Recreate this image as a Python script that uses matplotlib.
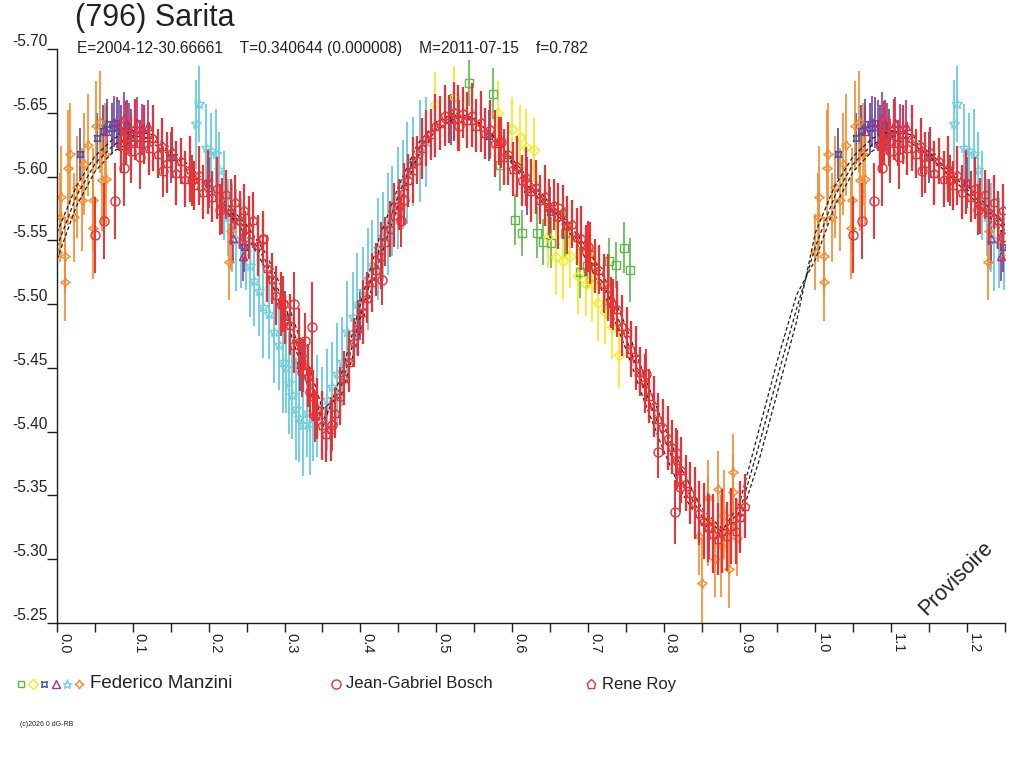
import numpy as np
import matplotlib
matplotlib.use('Agg')
import matplotlib.pyplot as plt

plt.rcParams['font.family'] = ['Liberation Sans', 'DejaVu Sans']

# curve fit (3 solutions), phase 0..1
fit_phase = [0.000, 0.025, 0.050, 0.075, 0.100, 0.125, 0.150, 0.175, 0.200, 0.225,
             0.250, 0.275, 0.300, 0.325, 0.350, 0.375, 0.400, 0.425, 0.450, 0.475,
             0.500, 0.525, 0.550, 0.575, 0.600, 0.625, 0.650, 0.675, 0.700, 0.725,
             0.750, 0.775, 0.800, 0.825, 0.850, 0.875, 0.900, 0.925, 0.950, 0.975, 1.000]
fit_mid = [-5.545, -5.584, -5.610, -5.625, -5.632, -5.630, -5.619, -5.605, -5.590, -5.575,
           -5.558, -5.534, -5.500, -5.455, -5.408, -5.436, -5.490, -5.543, -5.585, -5.620,
           -5.640, -5.648, -5.645, -5.632, -5.612, -5.593, -5.576, -5.560, -5.538, -5.510,
           -5.474, -5.433, -5.395, -5.360, -5.334, -5.322, -5.337, -5.388, -5.443, -5.496, -5.545]
fit_a = [-5.556, -5.592, -5.616, -5.630, -5.636, -5.633, -5.622, -5.608, -5.593, -5.578,
         -5.562, -5.540, -5.508, -5.465, -5.418, -5.428, -5.480, -5.534, -5.578, -5.615,
         -5.637, -5.646, -5.644, -5.632, -5.614, -5.596, -5.579, -5.563, -5.543, -5.517,
         -5.483, -5.443, -5.405, -5.369, -5.340, -5.325, -5.330, -5.376, -5.431, -5.486, -5.556]
fit_b = [-5.535, -5.576, -5.604, -5.620, -5.628, -5.627, -5.616, -5.602, -5.587, -5.572,
         -5.554, -5.528, -5.492, -5.446, -5.403, -5.445, -5.500, -5.552, -5.592, -5.625,
         -5.643, -5.650, -5.646, -5.632, -5.610, -5.590, -5.573, -5.557, -5.533, -5.503,
         -5.465, -5.423, -5.385, -5.351, -5.328, -5.320, -5.344, -5.400, -5.456, -5.507, -5.535]

# Rene Roy
roy_phase = [0.085, 0.091, 0.097, 0.103, 0.109, 0.115, 0.121, 0.127, 0.133, 0.139,
             0.145, 0.151, 0.157, 0.163, 0.169, 0.175, 0.181, 0.187, 0.193, 0.199,
             0.205, 0.211, 0.217, 0.223, 0.229, 0.235, 0.241, 0.247, 0.253, 0.259,
             0.265, 0.271, 0.277, 0.283, 0.289, 0.295, 0.301, 0.307, 0.313, 0.319,
             0.325, 0.331, 0.337, 0.343, 0.349, 0.355, 0.361, 0.367, 0.373, 0.379,
             0.385, 0.391, 0.397, 0.403, 0.409, 0.415, 0.421, 0.427, 0.433, 0.439,
             0.445, 0.451, 0.457, 0.463, 0.469, 0.475, 0.481, 0.487, 0.493, 0.499,
             0.505, 0.511, 0.517, 0.523, 0.529, 0.535, 0.541, 0.547, 0.553, 0.559,
             0.565, 0.571, 0.577, 0.583, 0.589, 0.595, 0.601, 0.607, 0.613, 0.619,
             0.625, 0.631, 0.637, 0.643, 0.649, 0.655, 0.661, 0.667, 0.673, 0.679,
             0.685, 0.691, 0.697, 0.703, 0.709, 0.715, 0.721, 0.727, 0.733, 0.739,
             0.745, 0.751, 0.757, 0.763, 0.769, 0.775, 0.781, 0.787, 0.793, 0.799,
             0.805, 0.811, 0.817, 0.823, 0.829, 0.835, 0.841, 0.847, 0.853, 0.859,
             0.865, 0.871, 0.877, 0.883, 0.889, 0.895, 0.901, 0.907]
roy_mag = [-5.625, -5.634, -5.628, -5.637, -5.626, -5.633, -5.622, -5.630, -5.618, -5.624,
           -5.611, -5.619, -5.603, -5.612, -5.598, -5.606, -5.593, -5.601, -5.588, -5.596,
           -5.584, -5.591, -5.577, -5.586, -5.572, -5.580, -5.566, -5.574, -5.560, -5.566,
           -5.546, -5.552, -5.528, -5.520, -5.507, -5.500, -5.488, -5.484, -5.468, -5.471,
           -5.452, -5.444, -5.428, -5.418, -5.405, -5.398, -5.402, -5.415, -5.428, -5.442,
           -5.455, -5.470, -5.481, -5.494, -5.505, -5.517, -5.527, -5.538, -5.549, -5.559,
           -5.570, -5.578, -5.588, -5.597, -5.605, -5.613, -5.622, -5.630, -5.633, -5.640,
           -5.642, -5.648, -5.645, -5.651, -5.646, -5.650, -5.644, -5.648, -5.640, -5.643,
           -5.634, -5.637, -5.626, -5.628, -5.615, -5.618, -5.606, -5.608, -5.597, -5.600,
           -5.589, -5.592, -5.582, -5.585, -5.576, -5.578, -5.569, -5.572, -5.562, -5.563,
           -5.553, -5.552, -5.542, -5.540, -5.530, -5.527, -5.516, -5.513, -5.500, -5.496,
           -5.483, -5.478, -5.465, -5.458, -5.447, -5.438, -5.428, -5.420, -5.410, -5.404,
           -5.395, -5.388, -5.378, -5.370, -5.360, -5.352, -5.344, -5.336, -5.330, -5.325,
           -5.320, -5.316, -5.322, -5.318, -5.326, -5.322, -5.333, -5.342]
roy_err = [0.022, 0.025, 0.020, 0.024, 0.018, 0.023, 0.021, 0.026, 0.019, 0.022,
           0.024, 0.020, 0.025, 0.018, 0.022, 0.026, 0.019, 0.023, 0.021, 0.025,
           0.020, 0.024, 0.022, 0.019, 0.026, 0.021, 0.023, 0.020, 0.025, 0.022,
           0.024, 0.021, 0.026, 0.020, 0.023, 0.025, 0.019, 0.024, 0.022, 0.026,
           0.021, 0.025, 0.020, 0.024, 0.027, 0.022, 0.025, 0.020, 0.023, 0.021,
           0.024, 0.019, 0.022, 0.025, 0.020, 0.023, 0.021, 0.026, 0.019, 0.022,
           0.025, 0.020, 0.023, 0.021, 0.026, 0.019, 0.024, 0.022, 0.020, 0.025,
           0.021, 0.024, 0.019, 0.023, 0.026, 0.020, 0.022, 0.025, 0.021, 0.024,
           0.020, 0.023, 0.026, 0.019, 0.022, 0.025, 0.021, 0.024, 0.020, 0.023,
           0.025, 0.021, 0.019, 0.024, 0.022, 0.020, 0.026, 0.021, 0.023, 0.019,
           0.022, 0.025, 0.020, 0.024, 0.021, 0.019, 0.023, 0.026, 0.020, 0.022,
           0.024, 0.020, 0.022, 0.025, 0.019, 0.023, 0.021, 0.024, 0.020, 0.022,
           0.025, 0.021, 0.023, 0.026, 0.022, 0.024, 0.028, 0.025, 0.030, 0.027,
           0.031, 0.028, 0.033, 0.027, 0.030, 0.026, 0.028, 0.025]

# Jean-Gabriel Bosch
bosch_phase = [0.050, 0.062, 0.077, 0.088, 0.098, 0.110, 0.140, 0.178, 0.215, 0.248,
               0.272, 0.298, 0.313, 0.323, 0.327, 0.334, 0.336, 0.340, 0.362, 0.428,
               0.453, 0.457, 0.530, 0.585, 0.620, 0.660, 0.700, 0.730, 0.776, 0.793,
               0.815, 0.816, 0.822, 0.860, 0.900]
bosch_mag = [-5.554, -5.565, -5.581, -5.607, -5.620, -5.615, -5.604, -5.597, -5.574, -5.553,
             -5.551, -5.500, -5.500, -5.447, -5.471, -5.431, -5.482, -5.412, -5.405, -5.519,
             -5.565, -5.582, -5.640, -5.627, -5.595, -5.575, -5.545, -5.501, -5.445, -5.384,
             -5.337, -5.383, -5.357, -5.325, -5.338]
bosch_err = [0.030, 0.030, 0.030, 0.030, 0.025, 0.025, 0.020, 0.020, 0.020, 0.020,
             0.020, 0.022, 0.025, 0.020, 0.022, 0.020, 0.035, 0.020, 0.020, 0.020,
             0.020, 0.020, 0.020, 0.020, 0.020, 0.020, 0.020, 0.020, 0.020, 0.020,
             0.025, 0.020, 0.020, 0.025, 0.020]

# Federico Manzini (6 sessions)
green_phase = [0.543, 0.575, 0.584, 0.604, 0.613, 0.633, 0.641, 0.652, 0.670, 0.690,
               0.699, 0.728, 0.737, 0.748, 0.755]
green_mag = [-5.673, -5.665, -5.609, -5.566, -5.556, -5.556, -5.549, -5.548, -5.556, -5.525,
             -5.530, -5.534, -5.531, -5.544, -5.527]
green_err = [0.018, 0.020, 0.020, 0.020, 0.018, 0.020, 0.018, 0.020, 0.020, 0.020,
             0.018, 0.018, 0.018, 0.020, 0.025]

yellow_phase = [0.498, 0.523, 0.582, 0.600, 0.610, 0.619, 0.629, 0.648, 0.658, 0.667,
                0.676, 0.687, 0.697, 0.705, 0.714, 0.723, 0.732, 0.741]
yellow_mag = [-5.657, -5.662, -5.650, -5.637, -5.631, -5.623, -5.621, -5.553, -5.537, -5.534,
              -5.538, -5.522, -5.516, -5.516, -5.501, -5.494, -5.482, -5.460]
yellow_err = [0.025, 0.025, 0.025, 0.025, 0.025, 0.030, 0.025, 0.025, 0.030, 0.030,
              0.025, 0.030, 0.025, 0.030, 0.030, 0.025, 0.025, 0.025]

blue_phase = [0.030, 0.053, 0.060, 0.066, 0.072, 0.079, 0.085, 0.092, 0.097, 0.150,
              0.200, 0.247, 0.300, 0.320, 0.400, 0.470, 0.520, 0.570, 0.620, 0.650]
blue_mag = [-5.618, -5.630, -5.636, -5.641, -5.638, -5.642, -5.636, -5.640, -5.633, -5.615,
            -5.595, -5.545, -5.490, -5.452, -5.492, -5.610, -5.645, -5.632, -5.590, -5.572]
blue_err = [0.020, 0.020, 0.020, 0.020, 0.020, 0.020, 0.020, 0.020, 0.020, 0.020,
            0.020, 0.020, 0.020, 0.020, 0.020, 0.020, 0.020, 0.020, 0.020, 0.020]

purple_phase = [0.065, 0.075, 0.082, 0.088, 0.095, 0.105, 0.112, 0.120, 0.232, 0.245]
purple_mag = [-5.636, -5.643, -5.640, -5.646, -5.638, -5.642, -5.637, -5.640, -5.552, -5.538]
purple_err = [0.020, 0.020, 0.020, 0.020, 0.020, 0.020, 0.020, 0.020, 0.020, 0.020]

cyan_phase = [0.183, 0.187, 0.196, 0.203, 0.209, 0.214, 0.220, 0.226, 0.231, 0.236,
              0.242, 0.249, 0.254, 0.260, 0.266, 0.272, 0.280, 0.286, 0.293, 0.298,
              0.302, 0.306, 0.310, 0.315, 0.319, 0.325, 0.330, 0.333, 0.338, 0.343,
              0.350, 0.356, 0.363, 0.369, 0.376, 0.383, 0.390, 0.396, 0.403, 0.410,
              0.416, 0.423, 0.430, 0.436, 0.442, 0.449, 0.456, 0.462, 0.470, 0.478, 0.486]
cyan_mag = [-5.641, -5.657, -5.622, -5.620, -5.618, -5.605, -5.585, -5.568, -5.560, -5.550,
            -5.548, -5.541, -5.530, -5.518, -5.510, -5.498, -5.492, -5.478, -5.468, -5.455,
            -5.450, -5.438, -5.429, -5.418, -5.411, -5.405, -5.415, -5.406, -5.412, -5.420,
            -5.416, -5.425, -5.435, -5.445, -5.455, -5.478, -5.490, -5.500, -5.510, -5.520,
            -5.531, -5.543, -5.553, -5.563, -5.573, -5.583, -5.594, -5.603, -5.612, -5.620, -5.627]
cyan_err = [0.035, 0.030, 0.035, 0.030, 0.035, 0.030, 0.035, 0.030, 0.035, 0.040,
            0.035, 0.030, 0.040, 0.035, 0.035, 0.040, 0.035, 0.040, 0.035, 0.040,
            0.035, 0.040, 0.035, 0.040, 0.035, 0.040, 0.035, 0.040, 0.035, 0.040,
            0.035, 0.040, 0.035, 0.040, 0.035, 0.040, 0.035, 0.040, 0.035, 0.040,
            0.035, 0.040, 0.035, 0.040, 0.035, 0.040, 0.035, 0.040, 0.035, 0.040, 0.035]

orange_phase = [0.000, 0.004, 0.005, 0.011, 0.011, 0.015, 0.017, 0.022, 0.026, 0.033,
                0.036, 0.041, 0.047, 0.048, 0.052, 0.057, 0.059, 0.063, 0.065, 0.227,
                0.229, 0.846, 0.851, 0.859, 0.859, 0.868, 0.871, 0.875, 0.879, 0.886,
                0.892, 0.892, 0.897]
orange_mag = [-5.541, -5.568, -5.584, -5.538, -5.517, -5.607, -5.618, -5.568, -5.592, -5.582,
              -5.610, -5.625, -5.560, -5.582, -5.640, -5.643, -5.597, -5.618, -5.598, -5.533,
              -5.557, -5.318, -5.281, -5.348, -5.330, -5.300, -5.355, -5.310, -5.335, -5.292,
              -5.368, -5.353, -5.317]
orange_err = [0.030, 0.035, 0.040, 0.030, 0.030, 0.045, 0.040, 0.035, 0.040, 0.040,
              0.040, 0.040, 0.040, 0.040, 0.035, 0.040, 0.040, 0.040, 0.035, 0.030,
              0.030, 0.030, 0.035, 0.030, 0.035, 0.030, 0.030, 0.040, 0.035, 0.030,
              0.030, 0.030, 0.030]

RED = '#ec3135'
C_GREEN = '#5cb848'
C_YELLOW = '#f6ea12'
C_BLUE = '#3c4ea6'
C_PURPLE = '#a2318e'
C_CYAN = '#72cfe0'
C_ORANGE = '#f68a2c'
INK = '#222222'

fig = plt.figure(figsize=(10.24, 7.68), dpi=100)
ax = fig.add_axes([57 / 1024, 1 - 623 / 768, 948 / 1024, 574 / 768])


def serie(ph, mag, err, marker, color, ms=6.0, z=2, lw=1.2):
    ph = np.array(ph)
    mag = np.array(mag)
    err = np.array(err)
    w = ph <= 0.25  # on repete le debut de phase apres 1.0
    x = np.concatenate([ph, ph[w] + 1.0])
    y = np.concatenate([mag, mag[w]])
    e = np.concatenate([err, err[w]])
    ax.errorbar(x, y, yerr=e, fmt='', marker=marker, ls='none', ms=ms, mfc='none',
                mec=color, mew=1.0, ecolor=color, elinewidth=lw, capsize=0, zorder=z)


serie(green_phase, green_mag, green_err, 's', C_GREEN, 5.5)
serie(yellow_phase, yellow_mag, yellow_err, 'D', C_YELLOW, 5.5)
serie(cyan_phase, cyan_mag, cyan_err, '*', C_CYAN, 7, lw=1.4)
serie(blue_phase, blue_mag, blue_err, (4, 1, 45), C_BLUE, 6.5)
serie(purple_phase, purple_mag, purple_err, '^', C_PURPLE, 6)
serie(orange_phase, orange_mag, orange_err, (4, 1, 0), C_ORANGE, 7)

# courbes d'ajustement, sous les mesures rouges
fp = np.array(fit_phase)
w = fp <= 0.25
fx = np.concatenate([fp, fp[w][1:] + 1.0])
for f in (fit_a, fit_mid, fit_b):
    fy = np.array(f)
    fy = np.concatenate([fy, fy[w][1:]])
    ax.plot(fx, fy, color='#1e1e1e', lw=0.9, ls=(0, (3, 2)), zorder=2.5)

serie(bosch_phase, bosch_mag, bosch_err, 'o', RED, 6.5, 3, lw=1.4)
serie(roy_phase, roy_mag, roy_err, 'p', RED, 6.3, 3, lw=1.6)

ax.set_xlim(0, 1.25)
ax.set_ylim(-5.25, -5.70)

for s in ('top', 'right'):
    ax.spines[s].set_visible(False)
for s in ('left', 'bottom'):
    ax.spines[s].set_color('#1e1e1e')
    ax.spines[s].set_linewidth(1.0)

xmaj = [0.0, 0.1, 0.2, 0.3, 0.4, 0.5, 0.6, 0.7, 0.8, 0.9, 1.0, 1.1, 1.2]
xmin = [0.05, 0.15, 0.25, 0.35, 0.45, 0.55, 0.65, 0.75, 0.85, 0.95, 1.05, 1.15, 1.25]
ax.set_xticks(xmaj)
ax.set_xticks(xmin, minor=True)
ax.set_xticklabels(['%.1f' % v for v in xmaj], rotation=270, ha='left', va='top',
                   fontsize=10.5, color=INK)
ax.tick_params(axis='x', which='both', direction='out', length=6.5, width=1,
               color='#1e1e1e', pad=1)

yt = [-5.70, -5.65, -5.60, -5.55, -5.50, -5.45, -5.40, -5.35, -5.30, -5.25]
ax.set_yticks(yt)
ax.set_yticklabels(['%.2f' % v for v in yt], fontsize=11.2, color=INK, va='bottom')
ax.tick_params(axis='y', direction='out', length=7, width=1, color='#1e1e1e', pad=0)

# titres
fig.text(75 / 1024, 1 - 18 / 768, '(796) Sarita', fontsize=22, color=INK,
         ha='left', va='center')
fig.text(77 / 1024, 1 - 48 / 768,
         'E=2004-12-30.66661    T=0.340644 (0.000008)    M=2011-07-15    f=0.782',
         fontsize=11.2, color=INK, ha='left', va='center')
fig.text(956 / 1024, 1 - 578 / 768, 'Provisoire', fontsize=15.5, rotation=45,
         color=INK, ha='center', va='center')
fig.text(20 / 1024, 1 - 725 / 768, '(c)2026 0 dG-RB', fontsize=5, color=INK,
         ha='left', va='center')

# legende
lg = fig.add_axes([0, 0, 1, 1], zorder=-1)
lg.set_xlim(0, 1024)
lg.set_ylim(768, 0)
lg.axis('off')
ly = 684
leg_syms = [('s', C_GREEN, 5), ('D', C_YELLOW, 5), ((4, 1, 45), C_BLUE, 6),
            ('^', C_PURPLE, 5.5), ('*', C_CYAN, 6.5), ((4, 1, 0), C_ORANGE, 6.5)]
lx = 21
for m, c, s in leg_syms:
    lg.plot([lx], [ly], marker=m, ms=s, mfc='none', mec=c, mew=1, ls='none')
    lx += 11.5
lg.text(90, ly, 'Federico Manzini', fontsize=13.5, color=INK, ha='left', va='center')
lg.plot([336], [ly], marker='o', ms=6.5, mfc='none', mec=RED, mew=1, ls='none')
lg.text(346, ly, 'Jean-Gabriel Bosch', fontsize=12, color=INK, ha='left', va='center')
lg.plot([591], [ly], marker='p', ms=6.5, mfc='none', mec=RED, mew=1, ls='none')
lg.text(602, ly, 'Rene Roy', fontsize=12, color=INK, ha='left', va='center')

fig.savefig('out.png', dpi=100)
